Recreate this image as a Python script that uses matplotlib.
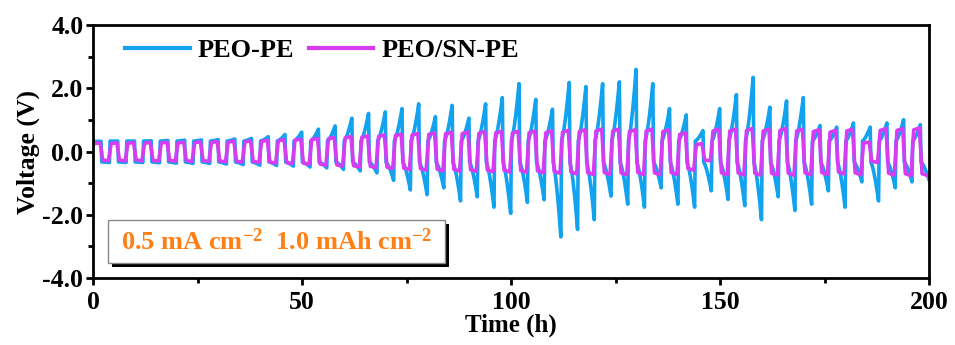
import numpy as np
import matplotlib
matplotlib.use("Agg")
import matplotlib.pyplot as plt
from matplotlib.patches import Rectangle
from matplotlib.ticker import MultipleLocator

plt.rcParams['font.family'] = ['Liberation Serif', 'DejaVu Serif']
plt.rcParams['mathtext.fontset'] = 'custom'
plt.rcParams['mathtext.rm'] = 'Liberation Serif:bold'
plt.rcParams['mathtext.it'] = 'Liberation Serif:bold'
plt.rcParams['mathtext.bf'] = 'Liberation Serif:bold'

# Galvanostatic cycling, 4 h per cycle (2 h strip / 2 h plate), 50 cycles
period_h = 4.0
series_names = ["PEO-PE", "PEO/SN-PE"]

# PEO-PE: voltage reached at the end of each charge / discharge half (V)
peo_pe_pos = [0.32, 0.33, 0.33, 0.34, 0.35, 0.36, 0.37, 0.38, 0.40, 0.42,
              0.48, 0.55, 0.63, 0.73, 0.84, 1.10, 1.26, 1.31, 1.42, 1.58,
              1.15, 1.53, 1.10, 1.58, 1.79, 2.26, 1.73, 1.40, 2.30, 2.16,
              2.26, 2.32, 2.74, 2.26, 1.42, 1.21, 0.68, 1.42, 1.89, 2.47,
              1.47, 1.68, 1.79, 0.85, 0.80, 0.94, 0.80, 0.94, 1.05, 0.88]
peo_pe_neg = [-0.35, -0.35, -0.35, -0.36, -0.37, -0.38, -0.38, -0.40, -0.42, -0.44,
              -0.45, -0.47, -0.50, -0.53, -0.58, -0.63, -0.70, -0.95, -1.27, -1.43,
              -1.20, -1.64, -1.50, -1.85, -2.06, -1.69, -1.60, -2.85, -2.60, -2.27,
              -1.48, -1.75, -1.85, -1.20, -1.75, -1.85, -1.30, -1.59, -1.80, -2.27,
              -1.50, -1.96, -1.75, -1.30, -1.85, -1.00, -1.64, -1.20, -1.00, -0.90]

# PEO/SN-PE: plateau voltage of each charge / discharge half (V)
peo_sn_pos = [0.28, 0.28, 0.29, 0.29, 0.30, 0.30, 0.31, 0.32, 0.33, 0.34,
              0.36, 0.38, 0.40, 0.42, 0.45, 0.48, 0.50, 0.53, 0.56, 0.58,
              0.60, 0.62, 0.63, 0.64, 0.65, 0.65, 0.66, 0.66, 0.68, 0.70,
              0.72, 0.72, 0.70, 0.72, 0.70, 0.60, 0.25, 0.72, 0.72, 0.74,
              0.72, 0.74, 0.72, 0.70, 0.68, 0.72, 0.30, 0.74, 0.74, 0.76]
peo_sn_neg = [-0.30, -0.30, -0.30, -0.31, -0.31, -0.32, -0.32, -0.33, -0.34, -0.35,
              -0.37, -0.39, -0.41, -0.44, -0.47, -0.50, -0.52, -0.55, -0.58, -0.60,
              -0.62, -0.63, -0.64, -0.65, -0.66, -0.67, -0.68, -0.70, -0.72, -0.74,
              -0.74, -0.75, -0.74, -0.75, -0.74, -0.60, -0.30, -0.75, -0.75, -0.76,
              -0.76, -0.76, -0.75, -0.74, -0.72, -0.75, -0.35, -0.76, -0.78, -0.78]

annotation = "0.5 mA cm$^{-2}$  1.0 mAh cm$^{-2}$"
x_ticks = [0, 50, 100, 150, 200]
y_ticks = [-4.0, -2.0, 0.0, 2.0, 4.0]

blue = "#12a2ee"
magenta = "#d63cf2"
orange = "#ff7f14"

dt = 0.01
t = np.arange(0.0, period_h * len(peo_pe_pos), dt)
cyc = np.minimum((t // period_h).astype(int), len(peo_pe_pos) - 1)
phase = (t % period_h) / (period_h / 2)          # 0..2
charge = phase < 1.0
s = np.where(charge, phase, phase - 1.0)          # progress within the half


def smooth(v, width_h):
    n = max(1, int(round(width_h / dt)))
    k = np.ones(n) / n
    pad = np.pad(v, (n, n), mode="edge")
    return np.convolve(pad, k, mode="same")[n:-n]


def ramp_wave(pos, neg):
    pos = np.asarray(pos)[cyc]
    neg = np.asarray(neg)[cyc]
    end = np.where(charge, pos, neg)
    base = np.sign(end) * np.minimum(np.abs(end), 0.33)
    return smooth(base + (end - base) * s ** 1.5, 0.15)


def plateau_wave(pos, neg):
    pos = np.asarray(pos)[cyc]
    neg = np.asarray(neg)[cyc]
    level = np.where(charge, pos, neg)
    return smooth(level * (0.88 + 0.12 * s), 0.6)


v_pe = ramp_wave(peo_pe_pos, peo_pe_neg)
v_sn = plateau_wave(peo_sn_pos, peo_sn_neg)

fig = plt.figure(figsize=(9.55, 3.45), dpi=100)
ax = fig.add_axes([0.0974, 0.1942, 0.8754, 0.7333])

ax.plot(t, v_pe, color=blue, lw=2.6, label=series_names[0], solid_joinstyle="round")
ax.plot(t, v_sn, color=magenta, lw=2.6, label=series_names[1], solid_joinstyle="round")

ax.set_xlim(0, 200)
ax.set_ylim(-4.0, 4.0)
ax.set_xticks(x_ticks)
ax.set_yticks(y_ticks)
ax.set_yticklabels([f"{v:.1f}" for v in y_ticks])
ax.xaxis.set_minor_locator(MultipleLocator(25))
ax.yaxis.set_minor_locator(MultipleLocator(1.0))
ax.tick_params(which="major", direction="out", length=5, width=2, labelsize=18.5)
ax.tick_params(axis="y", which="major", pad=2)
ax.tick_params(axis="x", which="major", pad=4)
ax.tick_params(which="minor", direction="out", length=3.5, width=2)
for lab in ax.get_xticklabels() + ax.get_yticklabels():
    lab.set_fontweight("bold")
for sp in ax.spines.values():
    sp.set_linewidth(2)

ax.set_xlabel("Time (h)", fontsize=18, fontweight="bold", labelpad=0)
ax.set_ylabel("Voltage (V)", fontsize=18.5, fontweight="bold", labelpad=2)

leg = ax.legend(loc="upper left", ncol=2, frameon=False,
                handlelength=2.45, handletextpad=0.3, columnspacing=0.55,
                bbox_to_anchor=(0.01, 1.04), prop={"weight": "bold", "size": 19})
for h in leg.get_lines():
    h.set_linewidth(3)

# Test-condition box with drop shadow
bx, by, bw, bh = 0.018, 0.059, 0.403, 0.170
sx, sy = 4 / 836, 4 / 253
ax.add_patch(Rectangle((bx + sx, by - sy), bw, bh, transform=ax.transAxes,
                       facecolor="black", edgecolor="none", zorder=5))
ax.add_patch(Rectangle((bx, by), bw, bh, transform=ax.transAxes,
                       facecolor="white", edgecolor="#888888", lw=1, zorder=6))
ax.text(bx + bw / 2, by + bh / 2, annotation, transform=ax.transAxes,
        ha="center", va="center", color=orange, fontsize=19, fontweight="bold",
        zorder=7)

fig.savefig("out.png", dpi=100)
